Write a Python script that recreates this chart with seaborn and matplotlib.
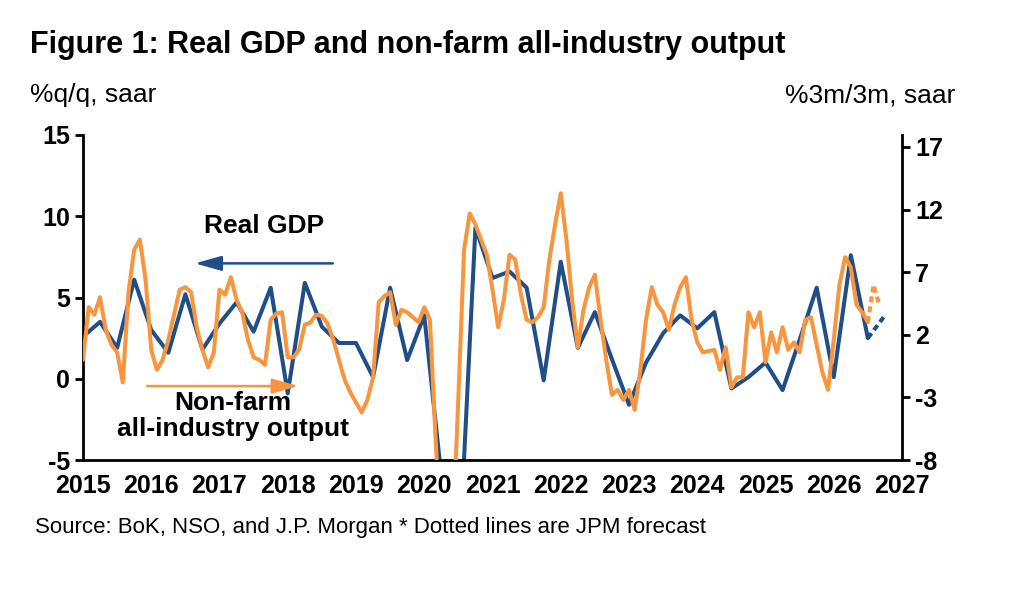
import matplotlib
matplotlib.use("Agg")
import matplotlib.pyplot as plt
import seaborn as sns
import numpy as np
import pandas as pd

sns.set_style("white")
plt.rcParams['font.family'] = ['Liberation Sans Narrow', 'Liberation Sans', 'DejaVu Sans']
plt.rcParams['axes.unicode_minus'] = False
plt.rcParams['text.color'] = 'black'
plt.rcParams['xtick.color'] = 'black'
plt.rcParams['ytick.color'] = 'black'

# Real GDP, %q/q saar, quarterly from 2015Q1
gdp = [2.6, 3.5, 1.9, 6.1, 3.0, 1.6, 5.2, 1.8, 3.4, 4.7, 2.9, 5.6, -0.9, 5.9, 3.2, 2.2,
       2.2, 0.1, 5.6, 1.15, 3.9, -6.0, -12.0, 9.3, 6.2, 6.6, 5.6, -0.1, 7.2, 1.9, 4.1, 1.2,
       -1.6, 1.0, 2.8, 3.9, 3.1, 4.1, -0.6, 0.1, 1.0, -0.7, 2.4, 5.6, 0.1, 7.6, 2.5]
gdp_fc = [2.5, 3.9]  # forecast (dotted)

# Non-farm all-industry output, %3m/3m saar, monthly from Jan 2015
ind = [0.0, 4.2, 3.6, 5.0, 2.4, 1.2, 0.6, -1.8, 5.4, 8.8, 9.6, 6.4, 0.8, -0.8, 0.0, 1.6,
       3.6, 5.6, 5.8, 5.4, 2.6, 0.8, -0.6, 0.6, 5.6, 5.2, 6.6, 4.8, 3.8, 1.6, 0.2, 0.0,
       -0.4, 3.2, 3.7, 3.8, 0.2, 0.2, 0.8, 2.8, 3.0, 3.6, 3.5, 2.9, 1.6, 0.0, -1.6, -2.6,
       -3.4, -4.2, -3.2, -1.4, 4.6, 5.1, 5.4, 2.8, 4.0, 3.8, 3.4, 3.0, 4.2, 3.2, -6.4, -15.0,
       -18.0, -14.0, -3.0, 8.8, 11.7, 10.8, 9.6, 8.4, 5.6, 2.6, 4.8, 8.4, 8.0, 5.2, 3.2, 3.0,
       3.4, 4.2, 8.0, 10.8, 13.3, 9.6, 4.8, 1.0, 4.0, 5.8, 6.8, 3.2, 0.0, -2.8, -2.4, -3.2,
       -2.4, -4.0, -0.8, 3.2, 5.8, 4.4, 3.8, 2.4, 4.4, 5.8, 6.6, 3.2, 1.4, 0.6, 0.7, 0.8,
       -0.8, 1.0, -2.2, -1.4, -1.4, 3.8, 2.6, 3.8, -0.2, 2.2, 0.6, 2.6, 0.8, 1.4, 0.6, 3.2,
       3.4, 1.2, -1.0, -2.4, 1.6, 6.0, 8.2, 7.4, 4.4, 3.8, 3.0]
ind_fc = [3.0, 6.0, 4.4]

years = list(range(2015, 2028))
left_ticks = [-5, 0, 5, 10, 15]
right_ticks = [-8, -3, 2, 7, 12, 17]

navy = "#1F4E89"
orange = "#F7963F"

gdp_x = 2015 + np.arange(len(gdp)) / 4
gdp_fc_x = 2015 + (len(gdp) - 1 + np.arange(len(gdp_fc))) / 4
ind_x = 2015 + np.arange(len(ind)) / 12
ind_fc_x = 2015 + (len(ind) - 1 + np.arange(len(ind_fc))) / 12

fig = plt.figure(figsize=(10.2, 6.04), dpi=100)
ax = fig.add_axes([83/1020, 144/604, 819/1020, 325/604])
ax2 = ax.twinx()

lw = 2.9
sns.lineplot(x=gdp_x, y=gdp, ax=ax, color=navy, lw=lw)
sns.lineplot(x=gdp_fc_x, y=gdp_fc, ax=ax, color=navy, lw=lw, linestyle=(0, (1.5, 1)))
sns.lineplot(x=ind_x, y=ind, ax=ax2, color=orange, lw=lw)
sns.lineplot(x=ind_fc_x, y=ind_fc, ax=ax2, color=orange, lw=lw, linestyle=(0, (1.5, 1)))

ax.set_xlim(2015, 2027)
ax.set_ylim(-5, 15)
ax2.set_ylim(-8, 17 + 12/12.52)
ax.set_xticks(years)
ax.set_xticklabels([str(y) for y in years])
ax.set_yticks(left_ticks)
ax2.set_yticks(right_ticks)
for a in (ax, ax2):
    for s in a.spines.values():
        s.set_visible(False)
    a.tick_params(labelsize=18, width=2, length=6, direction='out')
    for lab in a.get_xticklabels() + a.get_yticklabels():
        lab.set_fontweight('bold')
ax.spines['left'].set_visible(True)
ax.spines['bottom'].set_visible(True)
ax2.spines['right'].set_visible(True)
for k in ('left', 'bottom'):
    ax.spines[k].set_linewidth(2)
    ax.spines[k].set_color('black')
ax2.spines['right'].set_linewidth(2)
ax2.spines['right'].set_color('black')
ax.tick_params(axis='x', pad=4)

fig.text(30/1020, 1 - 45/604, "Figure 1: Real GDP and non-farm all-industry output",
         fontsize=22, fontweight='bold', va='center')
fig.text(30/1020, 1 - 95/604, "%q/q, saar", fontsize=19, va='center')
fig.text(955/1020, 1 - 95/604, "%3m/3m, saar", fontsize=19, va='center', ha='right')
fig.text(35/1020, 1 - 528/604, "Source: BoK, NSO, and J.P. Morgan * Dotted lines are JPM forecast",
         fontsize=16, va='center')

ax.text(2017.65, 9.4, "Real GDP", fontsize=19, fontweight='bold', ha='center', va='center')
ax.annotate("", xy=(2016.6, 7.1), xytext=(2018.7, 7.1),
            arrowprops=dict(arrowstyle='-|>,head_length=1.6,head_width=0.45', color=navy, lw=1.8))
ax.text(2017.2, -2.3, "Non-farm\nall-industry output", fontsize=19, fontweight='bold',
        ha='center', va='center', linespacing=1.1)
ax.annotate("", xy=(2018.2, -0.45), xytext=(2015.9, -0.45),
            arrowprops=dict(arrowstyle='-|>,head_length=1.6,head_width=0.45', color=orange, lw=1.8))

fig.savefig("out.png", dpi=100)
